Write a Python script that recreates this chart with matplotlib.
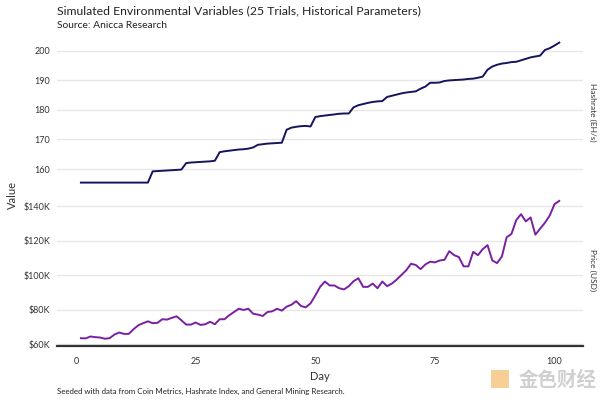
import numpy as np
import matplotlib
matplotlib.use('Agg')
import matplotlib.pyplot as plt
from matplotlib.ticker import FuncFormatter
from matplotlib.patches import Rectangle

plt.rcParams['font.family'] = ['Lato', 'DejaVu Sans']

# Data
days = np.arange(1, 102)

hashrate = [
    155.4, 155.4, 155.4, 155.4, 155.4, 155.4, 155.4, 155.4, 155.4, 155.4,
    155.4, 155.4, 155.4, 155.4, 155.4, 159.2, 159.3, 159.4, 159.5, 159.6,
    159.7, 159.8, 162.0, 162.2, 162.3, 162.4, 162.5, 162.6, 162.8, 165.7,
    166.0, 166.2, 166.4, 166.6, 166.7, 166.9, 167.3, 168.2, 168.4, 168.6,
    168.7, 168.8, 168.9, 173.3, 174.0, 174.3, 174.5, 174.6, 174.4, 177.6,
    177.9, 178.1, 178.3, 178.5, 178.7, 178.8, 178.8, 180.9, 181.6, 182.0,
    182.4, 182.7, 182.9, 183.0, 184.4, 184.8, 185.2, 185.6, 185.9, 186.1,
    186.3, 187.2, 187.9, 189.2, 189.2, 189.3, 189.8, 190.0, 190.1, 190.2,
    190.3, 190.5, 190.6, 190.9, 191.3, 193.6, 194.7, 195.3, 195.7, 195.9,
    196.2, 196.3, 196.8, 197.3, 197.8, 198.1, 198.4, 200.3, 200.9, 201.8,
    202.8,
]

price = [
    63.4, 63.3, 64.4, 64.0, 63.8, 63.1, 63.4, 65.5, 66.7, 65.9,
    65.9, 68.6, 70.9, 72.1, 73.2, 72.1, 72.3, 74.4, 74.2, 75.2,
    76.1, 73.8, 71.3, 71.3, 72.5, 71.1, 71.5, 72.9, 71.5, 74.4,
    74.4, 76.7, 78.6, 80.5, 79.8, 80.5, 77.6, 77.1, 76.3, 78.6,
    79.0, 80.5, 79.4, 81.7, 82.8, 84.9, 82.1, 81.3, 83.6, 88.2,
    93.2, 96.3, 94.0, 94.0, 92.4, 91.7, 93.6, 96.5, 98.2, 93.2,
    93.2, 95.1, 92.4, 96.3, 93.6, 95.1, 97.4, 100.1, 102.8, 106.6,
    105.9, 103.5, 106.2, 107.8, 107.4, 108.5, 108.9, 113.9, 111.6, 110.5,
    105.1, 105.1, 113.5, 111.6, 115.1, 117.4, 108.5, 107.0, 110.8, 122.0,
    123.9, 131.9, 135.4, 131.2, 133.5, 123.5, 127.0, 130.4, 134.6, 141.2,
    143.1,
]
price = np.array(price) * 1000

hash_ticks = [160, 170, 180, 190, 200]
price_ticks = [60000, 80000, 100000, 120000, 140000]
day_ticks = [0, 25, 50, 75, 100]

fig = plt.figure(figsize=(6, 4), dpi=100)
ax1 = fig.add_axes([0.095, 0.526, 0.877, 0.385])
ax2 = fig.add_axes([0.095, 0.136, 0.877, 0.379], sharex=ax1)

grid_col = '#e6e6e6'
text_col = '#333333'

for ax in (ax1, ax2):
    for s in ax.spines.values():
        s.set_visible(False)
    ax.grid(True, axis='y', color=grid_col, linewidth=0.9)
    ax.grid(False, axis='x')
    ax.set_axisbelow(True)
    ax.tick_params(length=0, labelsize=6.5, colors=text_col, pad=5)

ax1.plot(days, hashrate, color='#15155e', linewidth=1.4)
ax1.set_yticks(hash_ticks)
ax1.tick_params(axis='x', labelbottom=False)

ax2.plot(days, price, color='#7b1fa2', linewidth=1.4)
ax2.set_yticks(price_ticks)
ax2.yaxis.set_major_formatter(FuncFormatter(lambda v, p: f'${v/1000:.0f}K'))
ax2.set_xticks(day_ticks)
ax2.spines['bottom'].set_visible(True)
ax2.spines['bottom'].set_color('#333333')
ax2.spines['bottom'].set_linewidth(1.6)
ax2.tick_params(axis='x', pad=8)
ax2.set_xlabel('Day', fontsize=8, color=text_col, labelpad=4)

# right-side series labels
ax1.yaxis.set_label_position('right')
ax1.set_ylabel('Hashrate (EH/s)', fontsize=6, color=text_col, rotation=270, labelpad=9)
ax2.yaxis.set_label_position('right')
ax2.set_ylabel('Price (USD)', fontsize=6, color=text_col, rotation=270, labelpad=9)

fig.text(0.02, 0.512, 'Value', fontsize=8, color=text_col, rotation=90, ha='center', va='center')

fig.text(0.095, 0.972, 'Simulated Environmental Variables (25 Trials, Historical Parameters)',
         fontsize=8.8, color='#222222', ha='left', va='center')
fig.text(0.095, 0.937, 'Source: Anicca Research', fontsize=7.4, color='#222222', ha='left', va='center')
fig.text(0.095, 0.022, 'Seeded with data from Coin Metrics, Hashrate Index, and General Mining Research.',
         fontsize=5.7, color='#222222', ha='left', va='center')

# watermark
fig.patches.append(Rectangle((0.818, 0.03), 0.03, 0.045, transform=fig.transFigure,
                             facecolor='#f3c47a', edgecolor='none', alpha=0.8))
fig.text(0.995, 0.05, '金色财经', fontsize=14, color='#d0d0d0', ha='right', va='center',
         family=['Noto Sans CJK SC', 'DejaVu Sans'], fontweight='bold')

fig.savefig('out.png', dpi=100)
